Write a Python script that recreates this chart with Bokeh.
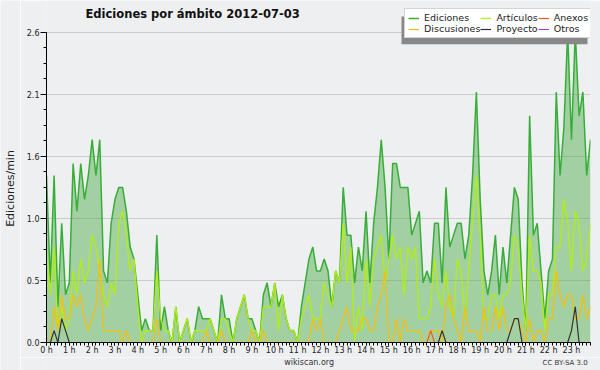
import math
from bokeh.plotting import figure
from bokeh.models import Range1d, FixedTicker, Legend, LegendItem, Label, BoxAnnotation
from bokeh.layouts import column, row
from bokeh.core.properties import value
from bokeh.embed import file_html
from bokeh.resources import INLINE

# ---- data: edits per minute, 10-minute slots, 2012-07-03 ----
slots = list(range(144))
hour_ticks = list(range(0, 144, 6))
hour_labels = [f"{h} h" for h in range(24)]
y_ticks = [0, 0.52, 1.04, 1.56, 2.08, 2.6]
y_labels = ["0.0", "0.5", "1.0", "1.6", "2.1", "2.6"]
y_minor = [0.13 * k for k in range(21)]

ediciones = [
    1.4, 0.5, 1.4, 0.3, 1.0, 0.4, 0.5, 1.5, 1.1, 1.5, 1.2, 1.4,
    1.7, 1.4, 1.7, 0.6, 0.5, 1.0, 1.2, 1.3, 1.3, 1.1, 0.8, 0.7,
    0.4, 0.1, 0.2, 0.1, 0.1, 0.9, 0.1, 0.3, 0.1, 0.0, 0.3, 0.0,
    0.1, 0.2, 0.0, 0.1, 0.3, 0.2, 0.2, 0.2, 0.1, 0.0, 0.4, 0.2,
    0.2, 0.0, 0.2, 0.3, 0.4, 0.2, 0.2, 0.1, 0.0, 0.4, 0.5, 0.3,
    0.5, 0.3, 0.4, 0.2, 0.1, 0.1, 0.0, 0.3, 0.5, 0.7, 0.8, 0.6,
    0.6, 0.7, 0.6, 0.3, 0.6, 0.5, 1.3, 0.9, 0.9, 0.5, 0.8, 0.6,
    1.1, 0.5, 1.0, 1.3, 1.7, 1.3, 0.7, 1.5, 1.5, 1.3, 1.3, 1.3,
    0.9, 1.0, 1.1, 0.5, 0.6, 0.5, 1.0, 1.0, 0.5, 1.3, 0.8, 0.9,
    1.0, 1.0, 0.7, 0.9, 1.4, 2.1, 1.2, 0.6, 0.4, 0.6, 0.9, 0.4,
    0.8, 0.5, 0.9, 1.3, 1.2, 0.5, 0.1, 1.9, 0.9, 1.0, 0.6, 0.2,
    0.6, 0.7, 2.1, 1.4, 1.8, 2.6, 1.7, 2.6, 1.9, 2.1, 1.4, 1.7,
]
articulos = [
    0.8, 0.4, 0.8, 0.1, 0.3, 0.1, 0.2, 0.6, 0.4, 0.7, 0.5, 0.6,
    0.9, 0.8, 0.6, 0.4, 0.3, 0.5, 0.4, 1.0, 1.1, 0.9, 0.6, 0.7,
    0.3, 0.0, 0.1, 0.1, 0.1, 0.6, 0.2, 0.1, 0.1, 0.0, 0.3, 0.0,
    0.1, 0.2, 0.0, 0.1, 0.1, 0.1, 0.1, 0.2, 0.1, 0.0, 0.2, 0.2,
    0.1, 0.0, 0.2, 0.3, 0.4, 0.2, 0.1, 0.1, 0.0, 0.3, 0.3, 0.3,
    0.5, 0.1, 0.4, 0.2, 0.1, 0.1, 0.0, 0.2, 0.3, 0.4, 0.2, 0.2,
    0.2, 0.5, 0.4, 0.3, 0.6, 0.5, 1.0, 0.5, 0.8, 0.0, 0.3, 0.1,
    0.7, 0.3, 0.7, 0.8, 0.9, 0.5, 0.7, 0.9, 0.7, 0.8, 0.4, 0.8,
    0.7, 0.8, 0.2, 0.2, 0.2, 0.3, 0.7, 0.4, 0.3, 0.6, 0.3, 0.2,
    0.7, 0.6, 0.2, 0.6, 1.0, 1.4, 0.9, 0.2, 0.2, 0.4, 0.4, 0.2,
    0.4, 0.4, 0.5, 0.9, 0.8, 0.4, 0.1, 0.9, 0.6, 0.6, 0.5, 0.1,
    0.4, 0.4, 0.8, 0.8, 1.2, 1.0, 0.6, 1.1, 1.0, 0.6, 0.7, 1.0,
]
discusiones = [
    0.0, 0.0, 0.3, 0.1, 0.4, 0.2, 0.2, 0.4, 0.3, 0.4, 0.2, 0.1,
    0.2, 0.3, 0.7, 0.1, 0.1, 0.1, 0.1, 0.1, 0.0, 0.1, 0.0, 0.0,
    0.0, 0.0, 0.0, 0.0, 0.0, 0.2, 0.0, 0.0, 0.0, 0.0, 0.0, 0.0,
    0.0, 0.0, 0.0, 0.0, 0.0, 0.0, 0.1, 0.0, 0.0, 0.0, 0.1, 0.0,
    0.0, 0.0, 0.0, 0.0, 0.0, 0.0, 0.1, 0.0, 0.0, 0.1, 0.0, 0.0,
    0.0, 0.0, 0.0, 0.0, 0.0, 0.0, 0.0, 0.0, 0.0, 0.0, 0.2, 0.1,
    0.2, 0.0, 0.0, 0.0, 0.0, 0.1, 0.2, 0.3, 0.1, 0.1, 0.1, 0.2,
    0.2, 0.1, 0.1, 0.3, 0.4, 0.6, 0.0, 0.0, 0.2, 0.0, 0.2, 0.1,
    0.1, 0.1, 0.1, 0.0, 0.0, 0.1, 0.1, 0.1, 0.0, 0.3, 0.4, 0.2,
    0.1, 0.0, 0.3, 0.1, 0.1, 0.1, 0.0, 0.3, 0.1, 0.1, 0.3, 0.1,
    0.3, 0.1, 0.1, 0.2, 0.2, 0.1, 0.0, 0.2, 0.0, 0.1, 0.1, 0.0,
    0.2, 0.2, 0.6, 0.4, 0.3, 0.4, 0.4, 0.2, 0.2, 0.4, 0.2, 0.3,
]
anexos = [0.0] * 144
anexos[101] = 0.1
proyecto = [0.0] * 144
for k, v in [(2, 0.1), (4, 0.2), (5, 0.1), (104, 0.1), (122, 0.1),
             (123, 0.2), (124, 0.2), (138, 0.1), (139, 0.3)]:
    proyecto[k] = v
otros = [0.0] * 144

title_text = "Ediciones por ámbito  2012-07-03"
y_axis_title = "Ediciones/min"
credit_site = "wikiscan.org"
credit_license = "CC BY-SA 3.0"

# ---- layout constants (pixels) ----
BG = "#eeeff1"
W_LEFT, W_MAIN = 20, 580
H_MAIN, H_FOOT = 357, 13
BOTTOM_PAD = 13
FRAME_LEFT_PAD, FRAME_RIGHT_PAD = 26, 10
frame_w = W_MAIN - FRAME_LEFT_PAD - FRAME_RIGHT_PAD   # 544
frame_h = H_MAIN - BOTTOM_PAD                          # 344
TOP_PAD_PX = 32                                        # free room above the 2.6 gridline
y_top = 2.6 * frame_h / (frame_h - TOP_PAD_PX)
x_end = 143

p = figure(width=W_MAIN, height=H_MAIN, output_backend="svg", toolbar_location=None,
           title=None, x_range=Range1d(0, x_end), y_range=Range1d(0, y_top),
           min_border_left=FRAME_LEFT_PAD, min_border_right=FRAME_RIGHT_PAD, min_border_top=0,
           min_border_bottom=BOTTOM_PAD)
p.background_fill_color = BG
p.border_fill_color = BG
p.outline_line_color = None

p.xgrid.grid_line_color = None
p.ygrid.grid_line_color = "#cccccc"
p.ygrid.grid_line_width = 1

for ax in (p.xaxis[0], p.yaxis[0]):
    ax.axis_line_color = "black"
    ax.major_tick_line_color = "black"
    ax.minor_tick_line_color = "black"
    ax.major_tick_in = 0
    ax.minor_tick_in = 0
    ax.major_label_text_font = "DejaVu Sans"
    ax.major_label_text_font_size = "8px"
    ax.major_label_text_color = "#222222"
    ax.major_label_standoff = 1

p.xaxis.ticker = FixedTicker(ticks=hour_ticks, minor_ticks=slots)
p.xaxis.major_label_overrides = dict(zip(hour_ticks, hour_labels))
p.xaxis.major_tick_out = 3
p.xaxis.minor_tick_out = 3
p.xaxis.major_label_standoff = 0

p.yaxis.ticker = FixedTicker(ticks=y_ticks, minor_ticks=y_minor)
p.yaxis.major_label_overrides = dict(zip(y_ticks, y_labels))
p.yaxis.bounds = (0, 2.6)
p.yaxis.major_tick_out = 6
p.yaxis.minor_tick_out = 3

# ---- glyphs ----
r_ot = p.line(slots, otros, line_color="#9933ff", line_width=1)
p.varea(x=slots, y1=[0.0] * 144, y2=ediciones, fill_color="#44aa44", fill_alpha=0.45)
r_ed = p.line(slots, ediciones, line_color="#38ad38", line_width=1.5)
r_ar = p.line(slots, articulos, line_color="#b2ee10", line_width=1.3)
r_di = p.line(slots, discusiones, line_color="#f2c010", line_width=1.3)
r_an = p.line(slots, anexos, line_color="#ff5522", line_width=1.2)
r_pr = p.line(slots, proyecto, line_color="#333333", line_width=1.2)

# title drawn inside the (tall) frame
p.add_layout(Label(x=39, y=frame_h - 15, x_units="screen", y_units="screen",
                   text=title_text, text_align="left", text_baseline="middle",
                   text_font="DejaVu Sans", text_font_style="bold",
                   text_font_size="11.5px", text_color="#111111"))

# legend box: pixel geometry relative to the frame
LEG_X, LEG_Y, LEG_W, LEG_H = 358, frame_h - 40, 186, 28


def px_to_x(px):
    return px / frame_w * x_end


def py_to_y(py):
    return py / frame_h * y_top


# drop shadow (offset left/down) behind the legend
p.add_layout(BoxAnnotation(left=px_to_x(LEG_X - 3), right=px_to_x(LEG_X + LEG_W - 3),
                           bottom=py_to_y(LEG_Y - 4), top=py_to_y(LEG_Y + LEG_H - 4),
                           fill_color="#888888", fill_alpha=1, line_color=None,
                           level="annotation"))
legend = Legend(
    items=[LegendItem(label="Ediciones", renderers=[r_ed]),
           LegendItem(label="Artículos", renderers=[r_ar]),
           LegendItem(label="Anexos", renderers=[r_an]),
           LegendItem(label="Discusiones", renderers=[r_di]),
           LegendItem(label="Proyecto", renderers=[r_pr]),
           LegendItem(label="Otros", renderers=[r_ot])],
    location=(LEG_X, LEG_Y), orientation="horizontal", ncols=3,
    background_fill_color="white", background_fill_alpha=1,
    border_line_color="#aaaaaa", border_line_width=1,
    label_text_font="DejaVu Sans", label_text_font_size="9.5px",
    label_text_color="#222222",
    glyph_width=11, glyph_height=10, label_height=10, label_standoff=5,
    spacing=0, padding=3, margin=0)
p.add_layout(legend)

# ---- left strip: vertical axis title ----
lf = figure(width=W_LEFT, height=H_MAIN + H_FOOT, output_backend="svg", toolbar_location=None,
            title=None, x_range=Range1d(0, W_LEFT), y_range=Range1d(0, H_MAIN + H_FOOT),
            x_axis_type=None, y_axis_type=None,
            min_border_left=0, min_border_right=0, min_border_top=0, min_border_bottom=0)
lf.background_fill_color = BG
lf.border_fill_color = BG
lf.outline_line_color = None
lf.grid.visible = False
lf.text(x=[10], y=[H_MAIN + H_FOOT - 188], text=[y_axis_title], angle=math.pi / 2,
        text_align="center", text_baseline="middle",
        text_font=value("DejaVu Sans"), text_font_size=value("11px"), text_color="#222222")

# ---- footer strip with credits ----
f = figure(width=W_MAIN, height=H_FOOT, output_backend="svg", toolbar_location=None, title=None,
           x_range=Range1d(0, W_MAIN), y_range=Range1d(0, H_FOOT),
           x_axis_type=None, y_axis_type=None,
           min_border_left=0, min_border_right=0, min_border_top=0, min_border_bottom=0)
f.background_fill_color = BG
f.border_fill_color = BG
f.outline_line_color = None
f.grid.visible = False
f.text(x=[280], y=[H_FOOT - 5], text=[credit_site], text_align="center", text_baseline="middle",
       text_font=value("DejaVu Sans"), text_font_size=value("8px"), text_color="#333333")
f.text(x=[577], y=[H_FOOT - 5], text=[credit_license], text_align="right", text_baseline="middle",
       text_font=value("DejaVu Sans"), text_font_size=value("7px"), text_color="#333333")

layout = row(lf, column(p, f, spacing=0), spacing=0)
open("out.html", "w").write(file_html(layout, INLINE))
